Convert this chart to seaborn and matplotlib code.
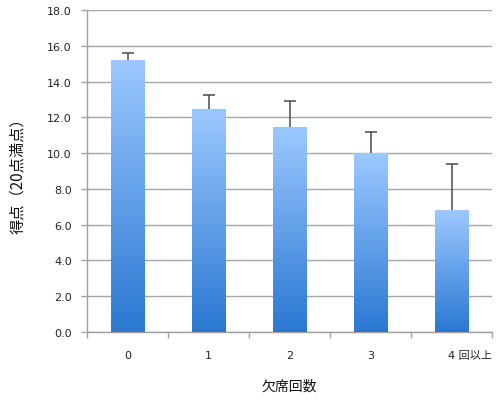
import numpy as np
import pandas as pd
import matplotlib
matplotlib.use('Agg')
import matplotlib.pyplot as plt
import matplotlib.transforms as mtransforms
from matplotlib.colors import LinearSegmentedColormap
import seaborn as sns

# data
absences = ['0', '1', '2', '3', '4 回以上']
scores = [15.2, 12.45, 11.45, 10.0, 6.8]
score_sd = [0.4, 0.8, 1.45, 1.2, 2.6]

df = pd.DataFrame({'欠席回数': absences, '得点': scores})

sns.set_theme(style='white')
plt.rcParams['font.family'] = ['DejaVu Sans', 'Noto Sans CJK JP']
jp = ['Noto Sans CJK JP', 'DejaVu Sans']

fig = plt.figure(figsize=(4.99, 4.02), dpi=100)
ax = fig.add_axes([87 / 499, 69 / 402, 405 / 499, 322 / 402])

sns.barplot(data=df, x='欠席回数', y='得点', order=absences, width=0.41,
            color='#5c9ae6', errorbar=None, ax=ax, zorder=3)

# upper error bars only
_, caps, _ = ax.errorbar(np.arange(len(absences)), scores,
                         yerr=[np.zeros(len(score_sd)), score_sd],
                         fmt='none', ecolor='#4a4a4a', elinewidth=1.1,
                         capsize=4, capthick=1.1, zorder=4)
caps[0].set_visible(False)

# vertical gradient fill on each bar
cmap = LinearSegmentedColormap.from_list('grad', ['#2a78d2', '#9cc8ff'])
grad = np.linspace(0, 1, 256).reshape(-1, 1)
for p in ax.patches:
    x0, y0 = p.get_x(), p.get_y()
    w, h = p.get_width(), p.get_height()
    p.set_edgecolor('none')
    im = ax.imshow(grad, cmap=cmap, origin='lower', aspect='auto',
                   extent=[x0, x0 + w, y0, y0 + h], zorder=3.5)
    im.set_clip_path(p)

ax.set_xlim(-0.5, 4.5)
ax.set_ylim(0, 18)
ax.set_yticks(np.arange(0, 18.1, 2))
ax.set_yticklabels([f'{v:.1f}' for v in np.arange(0, 18.1, 2)])
ax.yaxis.grid(True, color='#a6a6a6', linewidth=1.0, zorder=0)
ax.set_axisbelow(True)

for s in ['top', 'right']:
    ax.spines[s].set_visible(False)
for s in ['left', 'bottom']:
    ax.spines[s].set_color('#a0a0a0')
    ax.spines[s].set_linewidth(1.0)

ax.set_xticks(np.arange(-0.5, 4.6, 1), minor=True)
ax.tick_params(axis='x', which='major', length=0, pad=13, labelsize=8, colors='#222222')
ax.tick_params(axis='x', which='minor', length=4, width=1, color='#a0a0a0', bottom=True)
ax.tick_params(axis='y', which='major', length=4, width=1, color='#a0a0a0', left=True,
               pad=7, labelsize=8, labelcolor='#222222')

# last label starts at the bar center
last = ax.get_xticklabels()[-1]
last.set_horizontalalignment('left')
last.set_transform(last.get_transform() + mtransforms.ScaledTranslation(-4 / 100, 0, fig.dpi_scale_trans))

ax.set_xlabel('欠席回数', fontsize=10, color='#111111', labelpad=13, family=jp)
ax.set_ylabel('得点（20点満点）', fontsize=11, color='#111111', labelpad=15, family=jp)

fig.savefig('out.png', dpi=100)
